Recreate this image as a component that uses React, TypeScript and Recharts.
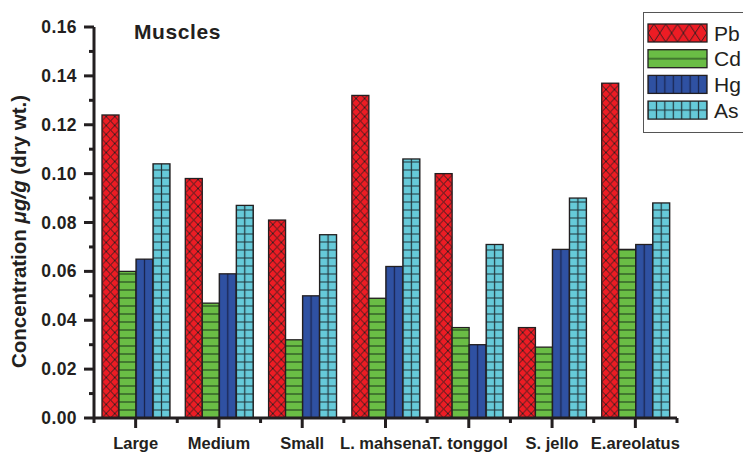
import { BarChart, Bar, XAxis, YAxis, Legend } from "recharts";

const categories = [
  "Large",
  "Medium",
  "Small",
  "L. mahsena",
  "T. tonggol",
  "S. jello",
  "E.areolatus",
];
const seriesNames = ["Pb", "Cd", "Hg", "As"];
const pb = [0.124, 0.098, 0.081, 0.132, 0.1, 0.037, 0.137];
const cd = [0.06, 0.047, 0.032, 0.049, 0.037, 0.029, 0.069];
const hg = [0.065, 0.059, 0.05, 0.062, 0.03, 0.069, 0.071];
const as = [0.104, 0.087, 0.075, 0.106, 0.071, 0.09, 0.088];
const yTicks = [
  0, 0.01, 0.02, 0.03, 0.04, 0.05, 0.06, 0.07, 0.08, 0.09, 0.1, 0.11, 0.12,
  0.13, 0.14, 0.15, 0.16,
];

const data = categories.map((name, i) => ({
  name,
  Pb: pb[i],
  Cd: cd[i],
  Hg: hg[i],
  As: as[i],
}));

const W = 743;
const H = 453;
const LEFT = 94; // y axis position
const RIGHT = 677;
const TOP = 27;
const BOTTOM = 418; // x axis position
const HALF_BAND = (RIGHT - LEFT) / categories.length / 2;
const INK = "#231f20";
const SANS = "'Liberation Sans', Arial, Helvetica, sans-serif";

const STYLE: Record<string, { fill: string; line: string }> = {
  Pb: { fill: "#ed1c24", line: INK },
  Cd: { fill: "#6abd45", line: "#3b6b2a" },
  Hg: { fill: "#2f51a2", line: "#1a2550" },
  As: { fill: "#66cad9", line: "#22343a" },
};

// fill pattern for one series; lines sit at the cell centre
function Hatch({
  id,
  series,
  x0,
  y0,
  cw,
  ch,
}: {
  id: string;
  series: string;
  x0: number;
  y0: number;
  cw: number;
  ch: number;
}) {
  const line = STYLE[series].line;
  let d = "";
  let sw = 1.3;
  if (series === "Pb") {
    d = `M0 0L${cw} ${ch}M${cw} 0L0 ${ch}`;
    sw = 0.9;
  } else if (series === "Cd") {
    d = `M0 ${ch / 2}H${cw}`;
    sw = 1.7;
  } else if (series === "Hg") {
    d = `M${cw / 2} 0V${ch}`;
    sw = 1.3;
  } else {
    d = `M${cw / 2} 0V${ch}M0 ${ch / 2}H${cw}`;
    sw = 1.2;
  }
  return (
    <pattern
      id={id}
      patternUnits="userSpaceOnUse"
      x={x0}
      y={y0}
      width={cw}
      height={ch}
    >
      <path d={d} stroke={line} strokeWidth={sw} fill="none" />
    </pattern>
  );
}

function PatternBar(props: any) {
  const { x, y, width, height, index, series } = props;
  if (!height || height <= 0) return null;
  const id = `bar-${series}-${index}`;
  const cw = width / 2;
  const ch = series === "Pb" ? 9 : 8;
  return (
    <g>
      <defs>
        <Hatch
          id={id}
          series={series}
          x0={x - cw / 2}
          y0={y + height - ch / 2}
          cw={cw}
          ch={ch}
        />
      </defs>
      <rect x={x} y={y} width={width} height={height} fill={STYLE[series].fill} />
      <rect
        x={x}
        y={y}
        width={width}
        height={height}
        fill={`url(#${id})`}
        stroke={INK}
        strokeWidth={1.3}
      />
    </g>
  );
}

function YTick(props: any) {
  const { y, payload } = props;
  const v = payload.value as number;
  const major = Math.round(v * 100) % 2 === 0;
  return (
    <g>
      <line
        x1={LEFT - (major ? 10 : 5)}
        x2={LEFT}
        y1={y}
        y2={y}
        stroke={INK}
        strokeWidth={3}
      />
      {major && (
        <text
          x={77}
          y={y + 6}
          textAnchor="end"
          fontFamily={SANS}
          fontWeight="bold"
          fontSize={17.5}
          letterSpacing={0.4}
          fill={INK}
        >
          {v.toFixed(2)}
        </text>
      )}
    </g>
  );
}

function XTick(props: any) {
  const { x, payload, index } = props;
  const last = index === categories.length - 1;
  return (
    <g>
      <line x1={x} x2={x} y1={BOTTOM} y2={BOTTOM + 10} stroke={INK} strokeWidth={3} />
      <line
        x1={x - HALF_BAND}
        x2={x - HALF_BAND}
        y1={BOTTOM}
        y2={BOTTOM + 5}
        stroke={INK}
        strokeWidth={3}
      />
      {last && (
        <line
          x1={x + HALF_BAND}
          x2={x + HALF_BAND}
          y1={BOTTOM}
          y2={BOTTOM + 5}
          stroke={INK}
          strokeWidth={3}
        />
      )}
      <text
        x={x}
        y={BOTTOM + 31}
        textAnchor="middle"
        fontFamily={SANS}
        fontWeight="bold"
        fontSize={16.5}
        fill={INK}
      >
        {payload.value}
      </text>
    </g>
  );
}

function YTitle(props: any) {
  const vb = props.viewBox ?? { x: 0, y: TOP, height: BOTTOM - TOP };
  const cx = vb.x + 18;
  const cy = vb.y + vb.height / 2 + 9;
  return (
    <text
      x={cx}
      y={cy}
      transform={`rotate(-90 ${cx} ${cy})`}
      textAnchor="middle"
      dominantBaseline="central"
      fontFamily={SANS}
      fontWeight="bold"
      fontSize={20.5}
      fill={INK}
    >
      Concentration{"  "}
      <tspan fontStyle="italic">μg/g</tspan> (dry wt.)
    </text>
  );
}

function LegendBox(props: any) {
  const items = [...((props.payload ?? []) as any[])].sort(
    (a, b) =>
      seriesNames.indexOf(String(a.dataKey)) -
      seriesNames.indexOf(String(b.dataKey))
  );
  return (
    <div
      style={{
        border: "1px solid #555",
        width: 130,
        height: 121,
        background: "#fff",
        boxSizing: "border-box",
      }}
    >
      <svg width={128} height={119} style={{ display: "block" }}>
        {items.map((it, i) => {
          const key = String(it.dataKey);
          const top = 11 + i * 25.7;
          const id = `legend-${key}`;
          const sw = 59;
          const cw = key === "Pb" ? sw / 5 : sw / 7;
          return (
            <g key={key}>
              <defs>
                <Hatch id={id} series={key} x0={4 - cw / 2} y0={top} cw={cw} ch={18} />
              </defs>
              <rect x={4} y={top} width={sw} height={18} fill={STYLE[key].fill} />
              <rect
                x={4}
                y={top}
                width={sw}
                height={18}
                fill={`url(#${id})`}
                stroke={INK}
                strokeWidth={1.3}
              />
              <text x={70} y={top + 16.5} fontFamily={SANS} fontSize={21} fill={INK}>
                {it.value}
              </text>
            </g>
          );
        })}
      </svg>
    </div>
  );
}

export default function App() {
  return (
    <div
      style={{
        position: "fixed",
        left: 0,
        top: 0,
        width: W,
        height: H,
        overflow: "hidden",
        background: "#fff",
      }}
    >
      <BarChart
        width={W}
        height={H}
        data={data}
        margin={{ top: TOP, right: W - RIGHT, bottom: 0, left: 0 }}
        barSize={17}
        barGap={0}
      >
        <XAxis
          dataKey="name"
          height={H - BOTTOM}
          interval={0}
          tickLine={false}
          axisLine={{ stroke: INK, strokeWidth: 3 }}
          tick={<XTick />}
        />
        <YAxis
          width={LEFT}
          domain={[0, 0.16]}
          ticks={yTicks}
          interval={0}
          tickLine={false}
          axisLine={{ stroke: INK, strokeWidth: 3 }}
          tick={<YTick />}
          label={<YTitle />}
        />
        <Legend
          layout="horizontal"
          verticalAlign="middle"
          align="center"
          content={<LegendBox />}
          wrapperStyle={{ left: 643, top: 12, width: 130, height: 121 }}
        />
        {seriesNames.map((s) => (
          <Bar
            key={s}
            dataKey={s}
            name={s}
            fill={STYLE[s].fill}
            isAnimationActive={false}
            shape={(p: any) => <PatternBar {...p} series={s} />}
          />
        ))}
      </BarChart>
      <svg
        width={W}
        height={H}
        style={{ position: "absolute", left: 0, top: 0, pointerEvents: "none" }}
      >
        <text
          x={134}
          y={39}
          fontFamily={SANS}
          fontWeight="bold"
          fontSize={21}
          letterSpacing={0.6}
          fill={INK}
        >
          Muscles
        </text>
      </svg>
    </div>
  );
}
